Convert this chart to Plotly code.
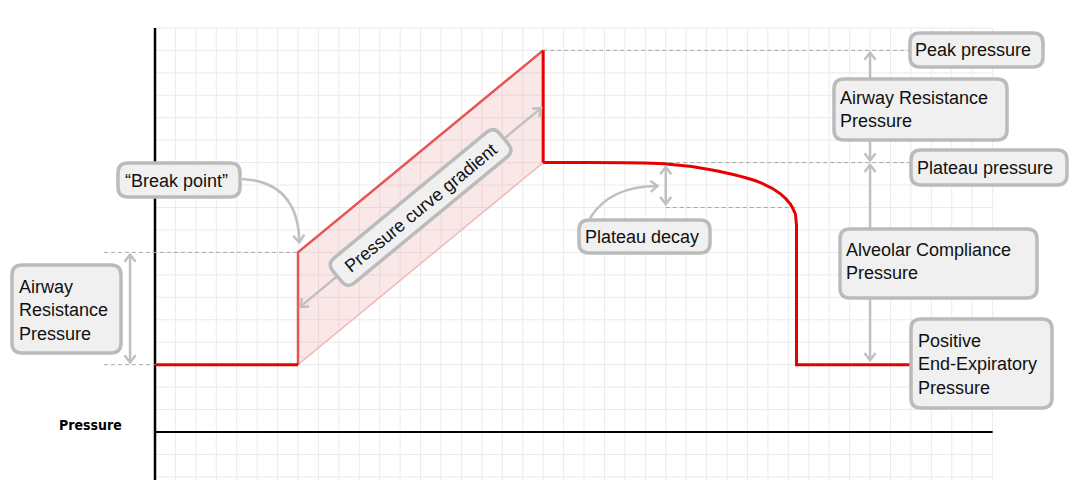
import math
import plotly.graph_objects as go

# pressure levels of the waveform (grid units, one unit = one grid square)
peep = 3
break_point = 8
peak_pressure = 17
plateau_pressure = 12
plateau_floor = 10

# time points of the waveform (grid units)
base_t = [0, 7]
base_p = [peep, peep]

ramp_t = [7, 7, 19]
ramp_p = [peep, break_point, peak_pressure]

drop_t = [19, 19]
drop_p = [peak_pressure, plateau_pressure]

hold_t = [19, 24.9, 27.2, 29.6, 30.6, 31.1, 31.35]
hold_p = [plateau_pressure, 11.95, 11.68, 11.12, 10.62, 10.15, 9.7]

exp_t = [31.35, 31.4, 31.4, 37]
exp_p = [9.7, 9.2, peep, peep]

W, H = 1074, 480
S_T, S_P = 20.43, 22.45          # pixels per grid unit
ORIGIN_X, ORIGIN_Y = 155, 432    # pixel position of t=0, p=0
GRID_T = 41
GRID_TOP = 18

GREY = "#c0c0c0"
DASH = "#a8a8a8"
FONT = dict(family="Arial, Liberation Sans, sans-serif", size=18, color="#111111")

fig = go.Figure()

# shaded gradient band
fig.add_trace(go.Scatter(
    x=[ramp_t[1], ramp_t[2], drop_t[1], ramp_t[0], ramp_t[1]],
    y=[ramp_p[1], ramp_p[2], drop_p[1], ramp_p[0], ramp_p[1]],
    fill="toself", fillcolor="rgba(232,150,150,0.22)",
    line=dict(width=0), mode="lines", hoverinfo="skip", showlegend=False))
fig.add_trace(go.Scatter(
    x=[ramp_t[0], drop_t[1]], y=[ramp_p[0], drop_p[1]],
    mode="lines", line=dict(color="#f0b8b8", width=1.5),
    hoverinfo="skip", showlegend=False))

fig.add_trace(go.Scatter(x=ramp_t, y=ramp_p, mode="lines",
                         line=dict(color="#e65454", width=2.5),
                         hoverinfo="skip", showlegend=False))
for tt, pp in [(base_t, base_p), (drop_t, drop_p), (exp_t, exp_p)]:
    fig.add_trace(go.Scatter(x=tt, y=pp, mode="lines",
                             line=dict(color="#e80000", width=3),
                             hoverinfo="skip", showlegend=False))
fig.add_trace(go.Scatter(x=hold_t, y=hold_p, mode="lines",
                         line=dict(color="#e80000", width=3, shape="spline", smoothing=0.8),
                         hoverinfo="skip", showlegend=False))

shapes = []
p_bottom = (ORIGIN_Y - H) / S_P

# grid
for i in range(GRID_T + 1):
    shapes.append(dict(type="line", x0=i, x1=i, y0=p_bottom, y1=GRID_TOP,
                       line=dict(color="#ebebeb", width=1), layer="below"))
for j in range(-2, GRID_TOP + 1):
    shapes.append(dict(type="line", x0=0, x1=GRID_T, y0=j, y1=j,
                       line=dict(color="#ebebeb", width=1), layer="below"))

# axes
shapes.append(dict(type="line", x0=0, x1=0, y0=p_bottom, y1=GRID_TOP,
                   line=dict(color="black", width=2.5), layer="below"))
shapes.append(dict(type="line", x0=0, x1=GRID_T, y0=0, y1=0,
                   line=dict(color="black", width=2), layer="below"))

# dashed level guides
def dashed(t0, t1, p):
    shapes.append(dict(type="line", x0=t0, x1=t1, y0=p, y1=p,
                       line=dict(color=DASH, width=1, dash="4px,3px"), layer="below"))

dashed(ramp_t[2], exp_t[-1], peak_pressure)
dashed(ramp_t[2], exp_t[-1], plateau_pressure)
dashed(25, exp_t[1], plateau_floor)
dashed(-2.5, ramp_t[1], break_point)
dashed(-2.5, 0, peep)


def chevron(t, p, dx, dy, size=9, spread=38):
    n = math.hypot(dx, dy)
    ux, uy = dx / n, dy / n
    arms = []
    for s in (spread, -spread):
        a = math.radians(s)
        cx = -ux * math.cos(a) + uy * math.sin(a)
        cy = -ux * math.sin(a) - uy * math.cos(a)
        arms.append((t + size * cx / S_T, p - size * cy / S_P))
    path = f"M {arms[0][0]},{arms[0][1]} L {t},{p} L {arms[1][0]},{arms[1][1]}"
    shapes.append(dict(type="path", path=path, line=dict(color=GREY, width=2.5)))


def shaft(t0, p0, t1, p1):
    shapes.append(dict(type="line", x0=t0, y0=p0, x1=t1, y1=p1,
                       line=dict(color=GREY, width=2.5)))


# left airway resistance arrow
shaft(-1.22, peep + 0.1, -1.22, break_point - 0.1)
chevron(-1.22, break_point - 0.1, 0, -1)
chevron(-1.22, peep + 0.1, 0, 1)

# pressure curve gradient arrow along the band's midline
mid0 = (ramp_p[0] + ramp_p[1]) / 2
slope = (peak_pressure - break_point) / (ramp_t[2] - ramp_t[1])
g0 = (ramp_t[1] + 0.1, mid0 + 0.1 * slope)
g1 = (ramp_t[2] - 0.1, mid0 + (ramp_t[2] - ramp_t[1] - 0.1) * slope)
shaft(g0[0], g0[1], g1[0], g1[1])
dxp, dyp = (g1[0] - g0[0]) * S_T, -(g1[1] - g0[1]) * S_P
chevron(g1[0], g1[1], dxp, dyp)
chevron(g0[0], g0[1], -dxp, -dyp)

# plateau decay double arrow
shaft(25, plateau_floor + 0.15, 25, plateau_pressure - 0.2)
chevron(25, plateau_pressure - 0.2, 0, -1)
chevron(25, plateau_floor + 0.15, 0, 1)

# right side arrows
shaft(35, plateau_pressure + 0.1, 35, peak_pressure - 0.1)
chevron(35, peak_pressure - 0.1, 0, -1)
chevron(35, plateau_pressure + 0.1, 0, 1)
shaft(35, peep + 0.2, 35, plateau_pressure - 0.1)
chevron(35, plateau_pressure - 0.1, 0, -1)
chevron(35, peep + 0.2, 0, 1)

# curved pointer arrows
shapes.append(dict(type="path", path="M 4.26,11.27 Q 7.0,11.14 7.07,8.45",
                   line=dict(color=GREY, width=2.5)))
chevron(7.07, 8.45, 0.1, 1)
shapes.append(dict(type="path", path="M 21.29,9.53 Q 22.27,10.96 24.6,10.96",
                   line=dict(color=GREY, width=2.5)))
chevron(24.6, 10.96, 1, -0.05)


def rbox(cx, cy, hw, hh, ang=0.0, r=10):
    # rounded rectangle in pixels, optionally rotated, drawn in paper coordinates
    th = math.radians(ang)
    ux, uy = math.cos(th), -math.sin(th)
    vx, vy = math.sin(th), math.cos(th)

    def P(a, b):
        x = cx + a * ux + b * vx
        y = cy + a * uy + b * vy
        return f"{x / W},{1 - y / H}"

    path = (f"M {P(-hw + r, -hh)} L {P(hw - r, -hh)} Q {P(hw, -hh)} {P(hw, -hh + r)} "
            f"L {P(hw, hh - r)} Q {P(hw, hh)} {P(hw - r, hh)} "
            f"L {P(-hw + r, hh)} Q {P(-hw, hh)} {P(-hw, hh - r)} "
            f"L {P(-hw, -hh + r)} Q {P(-hw, -hh)} {P(-hw + r, -hh)} Z")
    shapes.append(dict(type="path", xref="paper", yref="paper", path=path,
                       fillcolor="#f0f0f0", line=dict(color="#bbbbbb", width=3.5),
                       layer="above"))


annotations = []


def label(text, x, y):
    annotations.append(dict(text=text, x=x / W, y=1 - y / H, xref="paper", yref="paper",
                            xanchor="left", yanchor="middle", align="left",
                            showarrow=False, font=FONT))


boxes = [
    ((118, 163, 240, 197), "\u201cBreak point\u201d", 123, 181),
    ((12, 265, 121, 353), "Airway<br>Resistance<br>Pressure", 17, 310),
    ((579, 220, 710, 253), "Plateau decay", 583, 237),
    ((910, 33, 1043, 67), "Peak pressure", 913, 50),
    ((834, 79, 1007, 140), "Airway Resistance<br>Pressure", 838, 110),
    ((911, 150, 1067, 185), "Plateau pressure", 915, 168),
    ((840, 229, 1037, 298), "Alveolar Compliance<br>Pressure", 844, 261),
    ((911, 319, 1052, 408), "Positive<br>End-Expiratory<br>Pressure", 916, 364),
]
for (x0, y0, x1, y1), text, tx, ty in boxes:
    rbox((x0 + x1) / 2, (y0 + y1) / 2, (x1 - x0) / 2, (y1 - y0) / 2)
    label(text, tx, ty)

# rotated gradient label on the band's midline
angle = math.degrees(math.atan2((peak_pressure - break_point) * S_P,
                                (ramp_t[2] - ramp_t[1]) * S_T))
lab_t = (ramp_t[1] + ramp_t[2]) / 2
lab_p = ((break_point + peak_pressure) / 2 + (peep + plateau_pressure) / 2) / 2
rbox(ORIGIN_X + lab_t * S_T, ORIGIN_Y - lab_p * S_P, 108, 16, ang=angle, r=9)
annotations.append(dict(text="Pressure curve gradient", x=lab_t, y=lab_p,
                        xref="x", yref="y", showarrow=False, textangle=-angle,
                        font=FONT))

annotations.append(dict(text="<b>Pressure</b>", x=90.5 / W, y=1 - 425 / H,
                        xref="paper", yref="paper", showarrow=False,
                        xanchor="center", yanchor="middle",
                        font=dict(family="DejaVu Sans Condensed, DejaVu Sans, sans-serif",
                                  size=14, color="black")))

fig.update_layout(
    width=W, height=H,
    margin=dict(l=0, r=0, t=0, b=0),
    plot_bgcolor="white", paper_bgcolor="white",
    xaxis=dict(visible=False, range=[-ORIGIN_X / S_T, (W - ORIGIN_X) / S_T], fixedrange=True),
    yaxis=dict(visible=False, range=[(ORIGIN_Y - H) / S_P, ORIGIN_Y / S_P], fixedrange=True),
    shapes=shapes,
    annotations=annotations,
    showlegend=False,
)

fig.write_html("out.html", config={"displayModeBar": False},
               post_script="document.body.style.margin='0';")
